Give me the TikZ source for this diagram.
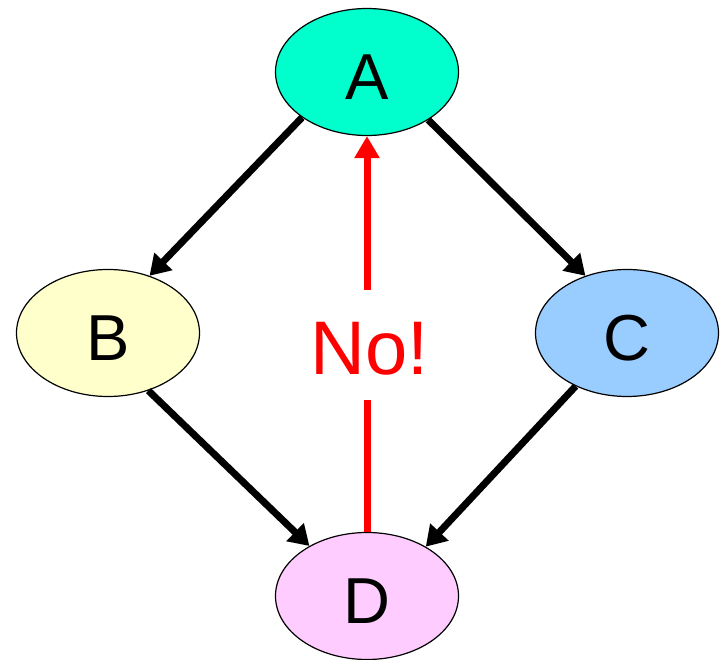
\documentclass[tikz,border=0pt]{standalone}
\usepackage{fontspec}
\setmainfont{Liberation Sans}
\usetikzlibrary{arrows.meta,shapes.geometric}
\definecolor{cA}{RGB}{0,255,204}
\definecolor{cB}{RGB}{255,255,204}
\definecolor{cC}{RGB}{153,204,255}
\definecolor{cD}{RGB}{255,204,255}
\definecolor{nored}{RGB}{255,0,0}
\tikzset{
  vert/.style={ellipse, draw=black, line width=1.2pt, minimum width=183pt, minimum height=127pt, inner sep=0pt},
  vlabel/.style={font=\fontsize{65}{78}\selectfont, inner sep=0pt, yshift=-5pt},
  edge/.style={line width=7pt, -{Triangle[width=24pt,length=20pt]}},
  noedge/.style={nored, line width=7pt},
}
\begin{document}
\begin{tikzpicture}[x=1pt,y=-1pt]
\useasboundingbox (0,0) rectangle (724,660);
\node[vert, fill=cA, label={[vlabel]center:A}] (A) at (367,72) {};
\node[vert, fill=cB, label={[vlabel]center:B}] (B) at (108,333) {};
\node[vert, fill=cC, label={[vlabel]center:C}] (C) at (627,333) {};
\node[vert, fill=cD, label={[vlabel]center:D}] (D) at (367,596) {};
\node[text=nored, font=\fontsize{76}{90}\selectfont, inner sep=0pt] (no) at (370,349) {No!};
\coordinate (r1) at (367,400);
\coordinate (r2) at (367,290);
\draw[edge] (A.215) -- (B.54);
\draw[edge] (A.322) -- (C.126);
\draw[edge] (B.305) -- (D.139);
\draw[edge] (C.226) -- (D.40);
\draw[noedge] (D.north) -- (r1);
\draw[noedge, -{Triangle[width=24pt,length=22pt]}] (r2) -- (A.south);
\end{tikzpicture}
\end{document}
